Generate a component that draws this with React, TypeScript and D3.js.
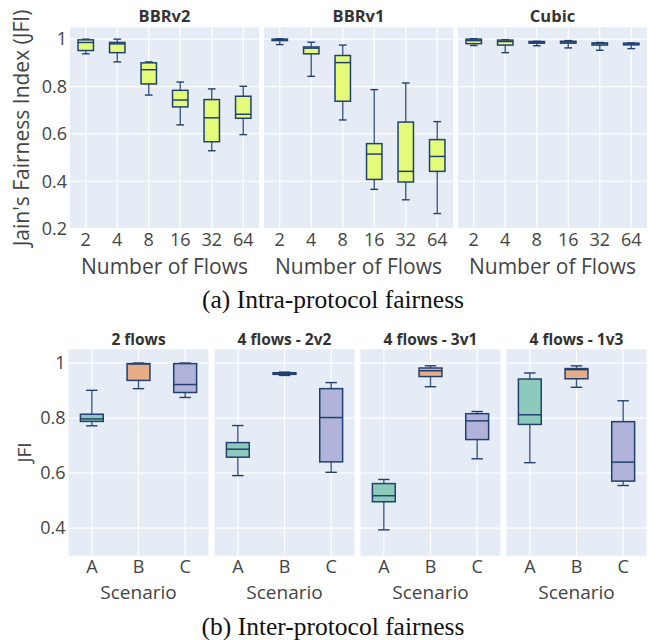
import React, { useEffect, useRef } from 'react';
import * as d3 from 'd3';

// ---- (a) intra-protocol data: [lower whisker, q1, median, q3, upper whisker]
const flowCounts = ['2', '4', '8', '16', '32', '64'];
const protocolNames = ['BBRv2', 'BBRv1', 'Cubic'];
const bbrv2Boxes = [
  [0.938, 0.952, 0.986, 0.997, 1.0],
  [0.904, 0.943, 0.98, 0.986, 1.0],
  [0.764, 0.811, 0.871, 0.9, 0.904],
  [0.638, 0.714, 0.743, 0.784, 0.819],
  [0.529, 0.567, 0.668, 0.745, 0.79],
  [0.597, 0.666, 0.683, 0.759, 0.801],
];
const bbrv1Boxes = [
  [0.977, 0.994, 0.997, 1.0, 1.002],
  [0.843, 0.938, 0.962, 0.967, 0.987],
  [0.659, 0.738, 0.901, 0.931, 0.975],
  [0.366, 0.408, 0.515, 0.559, 0.787],
  [0.322, 0.397, 0.442, 0.65, 0.815],
  [0.264, 0.442, 0.505, 0.576, 0.652],
];
const cubicBoxes = [
  [0.973, 0.981, 0.994, 1.0, 1.002],
  [0.943, 0.975, 0.99, 0.996, 0.998],
  [0.972, 0.983, 0.987, 0.99, 0.991],
  [0.963, 0.983, 0.988, 0.991, 0.994],
  [0.953, 0.975, 0.981, 0.984, 0.986],
  [0.96, 0.976, 0.979, 0.983, 0.984],
];
const intraTicks = [0.2, 0.4, 0.6, 0.8, 1];

// ---- (b) inter-protocol data
const scenarios = ['A', 'B', 'C'];
const groupTitles = ['2 flows', '4 flows - 2v2', '4 flows - 3v1', '4 flows - 1v3'];
const twoFlowBoxes = [
  [0.772, 0.788, 0.797, 0.814, 0.901],
  [0.907, 0.937, 0.997, 0.998, 1.0],
  [0.875, 0.893, 0.922, 0.998, 1.0],
];
const twoVsTwoBoxes = [
  [0.591, 0.658, 0.687, 0.711, 0.773],
  [0.955, 0.959, 0.963, 0.965, 0.967],
  [0.603, 0.641, 0.802, 0.907, 0.929],
];
const threeVsOneBoxes = [
  [0.394, 0.496, 0.518, 0.562, 0.577],
  [0.914, 0.951, 0.972, 0.982, 0.99],
  [0.652, 0.722, 0.79, 0.816, 0.824],
];
const oneVsThreeBoxes = [
  [0.638, 0.777, 0.812, 0.942, 0.964],
  [0.912, 0.943, 0.976, 0.98, 0.99],
  [0.555, 0.571, 0.64, 0.787, 0.863],
];
const interTicks = [0.4, 0.6, 0.8, 1];

const FONT = "'Open Sans', sans-serif";
const SERIF = "'Liberation Serif', serif";
const BG = '#e5ecf6';
const LINE = '#22406f';
const YELLOW = '#e4fb79';
const scenarioColors = ['#8ccbbb', '#e6ad87', '#b1b3db'];

type Panel = {
  x0: number;
  width: number;
  y: d3.ScaleLinear<number, number>;
  ticks: number[];
  categories: string[];
  boxes: number[][];
  colors: string[];
  title: string;
  titleY: number;
  titleSize: number;
};

function drawPanel(svg: d3.Selection<SVGSVGElement, unknown, null, undefined>, p: Panel) {
  const x = d3.scaleBand().domain(p.categories).range([p.x0, p.x0 + p.width]);
  const [bottom, top] = p.y.range();
  const g = svg.append('g');

  g.append('rect')
    .attr('x', p.x0).attr('y', top)
    .attr('width', p.width).attr('height', bottom - top)
    .attr('fill', BG);

  g.selectAll('line.hgrid').data(p.ticks).enter().append('line')
    .attr('x1', p.x0).attr('x2', p.x0 + p.width)
    .attr('y1', d => p.y(d)).attr('y2', d => p.y(d))
    .attr('stroke', 'white').attr('stroke-width', 1.2);

  g.selectAll('line.vgrid').data(p.categories).enter().append('line')
    .attr('x1', d => x(d)! + x.bandwidth() / 2).attr('x2', d => x(d)! + x.bandwidth() / 2)
    .attr('y1', top).attr('y2', bottom)
    .attr('stroke', 'white').attr('stroke-width', 1.2);

  const bw = x.bandwidth() * 0.49;
  const boxes = g.selectAll('g.box').data(p.boxes).enter().append('g')
    .attr('transform', (_, i) => `translate(${x(p.categories[i])! + x.bandwidth() / 2},0)`);

  boxes.append('line')
    .attr('x1', 0).attr('x2', 0)
    .attr('y1', d => p.y(d[0])).attr('y2', d => p.y(d[4]))
    .attr('stroke', LINE).attr('stroke-width', 1.4).attr('stroke-opacity', 0.85);
  boxes.append('line')
    .attr('x1', -bw / 4).attr('x2', bw / 4)
    .attr('y1', d => p.y(d[0])).attr('y2', d => p.y(d[0]))
    .attr('stroke', LINE).attr('stroke-width', 1.4);
  boxes.append('line')
    .attr('x1', -bw / 4).attr('x2', bw / 4)
    .attr('y1', d => p.y(d[4])).attr('y2', d => p.y(d[4]))
    .attr('stroke', LINE).attr('stroke-width', 1.4);
  boxes.append('rect')
    .attr('x', -bw / 2).attr('width', bw)
    .attr('y', d => p.y(d[3]))
    .attr('height', d => Math.max(1, p.y(d[1]) - p.y(d[3])))
    .attr('fill', (_, i) => p.colors[i % p.colors.length])
    .attr('stroke', LINE).attr('stroke-width', 1.5);
  boxes.append('line')
    .attr('x1', -bw / 2).attr('x2', bw / 2)
    .attr('y1', d => p.y(d[2])).attr('y2', d => p.y(d[2]))
    .attr('stroke', LINE).attr('stroke-width', 1.5);

  const xAxis = g.append('g')
    .attr('transform', `translate(0,${bottom})`)
    .call(d3.axisBottom(x).tickSize(0).tickPadding(4.5));
  xAxis.select('.domain').remove();
  xAxis.selectAll('text')
    .attr('font-family', FONT).attr('font-size', 18).attr('fill', '#444');

  g.append('text')
    .attr('x', p.x0 + p.width / 2).attr('y', p.titleY)
    .attr('text-anchor', 'middle')
    .attr('font-family', FONT).attr('font-weight', 'bold')
    .attr('font-size', p.titleSize).attr('fill', '#333')
    .text(p.title);
}

function drawYAxis(svg: d3.Selection<SVGSVGElement, unknown, null, undefined>, y: d3.ScaleLinear<number, number>, ticks: number[], left: number) {
  const ax = svg.append('g')
    .attr('transform', `translate(${left},0)`)
    .call(d3.axisLeft(y).tickValues(ticks).tickSize(0).tickPadding(3).tickFormat(d => String(d)));
  ax.select('.domain').remove();
  ax.selectAll('text')
    .attr('font-family', FONT).attr('font-size', 18).attr('fill', '#444');
}

export default function App() {
  const ref = useRef<SVGSVGElement>(null);

  useEffect(() => {
    const svg = d3.select(ref.current!);
    svg.selectAll('*').remove();

    // (a) Intra-protocol fairness
    const yTop = d3.scaleLinear().domain([0.2, 1.05]).range([228.7, 27.3]);
    const intraBoxes = [bbrv2Boxes, bbrv1Boxes, cubicBoxes];
    const topLeft = 70, topW = 189, topGap = 5;
    protocolNames.forEach((name, i) => {
      const x0 = topLeft + i * (topW + topGap);
      drawPanel(svg, {
        x0, width: topW, y: yTop, ticks: intraTicks, categories: flowCounts,
        boxes: intraBoxes[i], colors: [YELLOW], title: name, titleY: 22, titleSize: 16.5,
      });
      svg.append('text')
        .attr('x', x0 + topW / 2).attr('y', 274)
        .attr('text-anchor', 'middle')
        .attr('font-family', FONT).attr('font-size', 21).attr('fill', '#444')
        .text('Number of Flows');
    });
    drawYAxis(svg, yTop, intraTicks, topLeft);
    svg.append('text')
      .attr('transform', `translate(21,${(228.7 + 27.3) / 2}) rotate(-90)`)
      .attr('text-anchor', 'middle').attr('dominant-baseline', 'central')
      .attr('font-family', FONT).attr('font-size', 21).attr('fill', '#444')
      .text("Jain's Fairness Index (JFI)");

    svg.append('text')
      .attr('x', 333).attr('y', 308)
      .attr('text-anchor', 'middle')
      .attr('font-family', SERIF).attr('font-size', 25.5).attr('fill', '#111')
      .text('(a) Intra-protocol fairness');

    // (b) Inter-protocol fairness
    const yBot = d3.scaleLinear().domain([0.3, 1.05]).range([555.7, 349.3]);
    const interBoxes = [twoFlowBoxes, twoVsTwoBoxes, threeVsOneBoxes, oneVsThreeBoxes];
    const botLeft = 68.5, botW = 140, botGap = 6;
    groupTitles.forEach((title, i) => {
      const x0 = botLeft + i * (botW + botGap);
      drawPanel(svg, {
        x0, width: botW, y: yBot, ticks: interTicks, categories: scenarios,
        boxes: interBoxes[i], colors: scenarioColors, title, titleY: 345, titleSize: 15.5,
      });
      svg.append('text')
        .attr('x', x0 + botW / 2).attr('y', 599)
        .attr('text-anchor', 'middle')
        .attr('font-family', FONT).attr('font-size', 19).attr('fill', '#444')
        .text('Scenario');
    });
    drawYAxis(svg, yBot, interTicks, botLeft);
    svg.append('text')
      .attr('transform', `translate(24,${(555.7 + 349.3) / 2}) rotate(-90)`)
      .attr('text-anchor', 'middle').attr('dominant-baseline', 'central')
      .attr('font-family', FONT).attr('font-size', 19).attr('fill', '#444')
      .text('JFI');

    svg.append('text')
      .attr('x', 333).attr('y', 635)
      .attr('text-anchor', 'middle')
      .attr('font-family', SERIF).attr('font-size', 25.5).attr('fill', '#111')
      .text('(b) Inter-protocol fairness');
  }, []);

  return (
    <svg
      ref={ref}
      width={662}
      height={640}
      style={{ position: 'absolute', left: 0, top: 0, background: 'white' }}
    />
  );
}
